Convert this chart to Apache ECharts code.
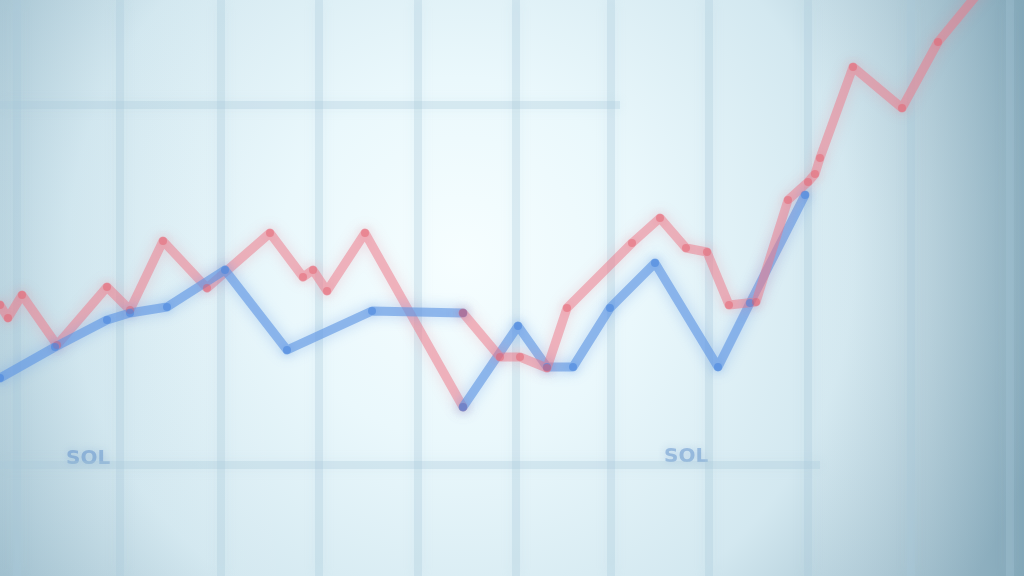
<!DOCTYPE html>
<html><head><meta charset="utf-8">
<script src="https://cdn.jsdelivr.net/npm/echarts@6/dist/echarts.min.js"></script>
<style>html,body{margin:0;padding:0;}#c{width:1024px;height:576px;}</style>
</head><body><div id="c"></div>
<script>
// Values (x along the time axis, y = level; both in chart units 0..1024 / 0..576)
const redEarly = [[0,271],[8,258],[22,281],[57,231],[107,289],[130,266],[163,335],[207,288],[270,343],[303,299],[313,306],[327,285],[365,343],[463,169]];
const redLate  = [[463,263],[500,219],[520,219],[547,208],[567,268],[632,333],[660,358],[686,328],[707,324],[729,271],[756,274],[788,376],[808,394],[815,402],[820,418],[853,509],[902,468],[938,534],[985,591]];
const blueEarly = [[0,198],[55,229],[107,256],[130,263],[167,269],[225,306],[287,226],[372,265],[463,263]];
const blueLate  = [[463,169],[518,250],[547,209],[573,209],[610,268],[655,313],[718,209],[750,273],[805,381]];
const gridX = [17,120,221,319,418,516,611,709,808,911,1010];
const hLines = [[0,620,471],[0,820,111]];
const labels = [{text:'SOL', x:66, y:117},{text:'SOL', x:664, y:119}];

const chart = echarts.init(document.getElementById('c'));
const red = 'rgba(238,120,135,0.5)';
const blue = 'rgba(95,150,228,0.62)';
function lineSeries(name, data, color, dot){
  return {
    name, type:'line', data, smooth:false, clip:true,
    symbol:'circle', symbolSize:8, showSymbol:true,
    lineStyle:{color, width:9, shadowBlur:14, shadowColor:color, cap:'round', join:'round'},
    itemStyle:{color:dot, shadowBlur:8, shadowColor:dot},
    z:5
  };
}
const option = {
  animation:false,
  backgroundColor:{type:'radial', x:0.45, y:0.45, r:1.05, colorStops:[
    {offset:0, color:'#f6feff'},{offset:0.3, color:'#eaf8fc'},{offset:0.65, color:'#d3e8f0'},{offset:1, color:'#93b4c4'}]},
  graphic:[
    {type:'rect', shape:{x:0,y:0,width:1024,height:576}, silent:true, z:-10,
     style:{fill:{type:'linear', x:0, y:0, x2:1, y2:0, colorStops:[
       {offset:0, color:'rgba(160,195,212,0.12)'},{offset:0.3, color:'rgba(255,255,255,0)'},{offset:0.78, color:'rgba(255,255,255,0)'},{offset:1, color:'rgba(95,138,158,0.3)'}]}}},
    ...labels.map(l => ({type:'text', silent:true, z:3,
      style:{text:l.text, x:l.x, y:576-l.y-10, font:'bold 20px "DejaVu Sans"', fill:'rgba(85,135,200,0.45)', textShadowBlur:8, textShadowColor:'rgba(85,135,200,0.7)'}}))
  ],
  grid:{left:0, right:0, top:0, bottom:0},
  xAxis:{type:'value', min:0, max:1024, show:false},
  yAxis:{type:'value', min:0, max:576, show:false},
  series:[
    {type:'line', data:[], silent:true,
     markLine:{silent:true, symbol:'none', label:{show:false},
       lineStyle:{color:'rgba(170,202,218,0.28)', width:8, type:'solid', shadowBlur:12, shadowColor:'rgba(170,202,218,0.5)'},
       data:[
         ...gridX.map(x => [{coord:[x,0]},{coord:[x,576]}]),
         ...hLines.map(h => [{coord:[h[0],h[2]]},{coord:[h[1],h[2]]}])
       ]}, z:1},
    lineSeries('red1', redEarly, red, 'rgba(228,90,105,0.45)'),
    lineSeries('blue1', blueEarly, blue, 'rgba(75,135,222,0.6)'),
    lineSeries('blue2', blueLate, blue, 'rgba(75,135,222,0.6)'),
    lineSeries('red2', redLate, red, 'rgba(228,90,105,0.45)')
  ]
};
chart.setOption(option);
</script></body></html>
